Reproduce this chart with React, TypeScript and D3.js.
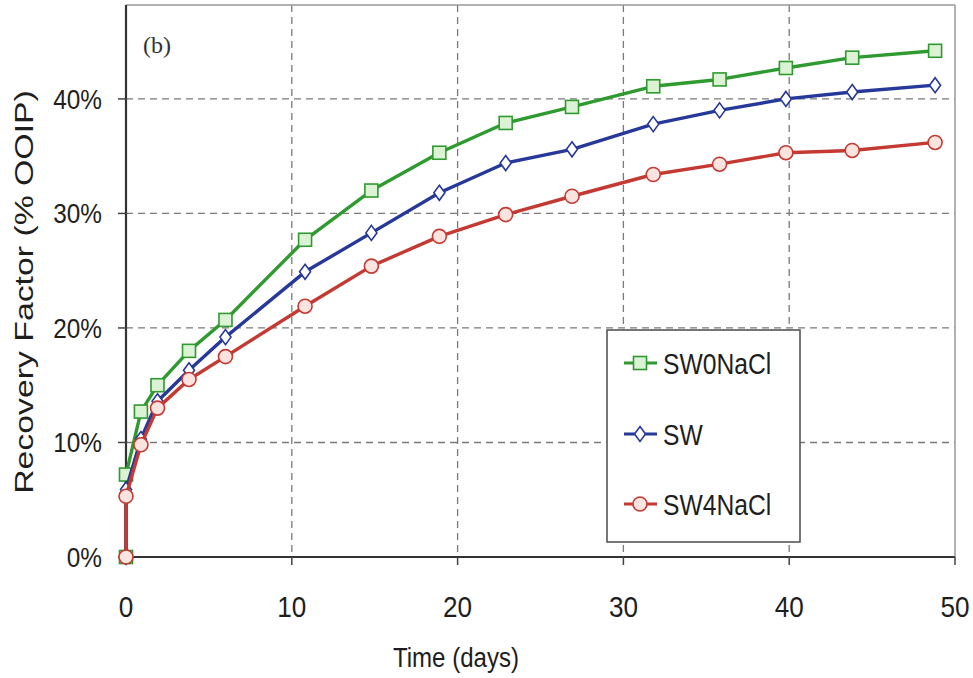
import React from "react";
import * as d3 from "d3";

const days = [0, 0, 0.9, 1.9, 3.8, 6.0, 10.8, 14.8, 18.9, 22.9, 26.9, 31.8, 35.8, 39.8, 43.8, 48.8];
const sw0NaCl = [0, 7.2, 12.7, 15.0, 18.0, 20.7, 27.7, 32.0, 35.3, 37.9, 39.3, 41.1, 41.7, 42.7, 43.6, 44.2];
const sw = [0, 5.9, 10.3, 13.6, 16.3, 19.2, 24.9, 28.3, 31.8, 34.4, 35.6, 37.8, 39.0, 40.0, 40.6, 41.2];
const sw4NaCl = [0, 5.3, 9.8, 13.0, 15.5, 17.5, 21.9, 25.4, 28.0, 29.9, 31.5, 33.4, 34.3, 35.3, 35.5, 36.2];
const xTicks = [0, 10, 20, 30, 40, 50];
const yTicks = [0, 10, 20, 30, 40];
const seriesNames = ["SW0NaCl", "SW", "SW4NaCl"];

const W = 973, H = 678;
const L = 126, R = 955, T = 5, B = 557;

const x = d3.scaleLinear().domain([0, 50]).range([L, R]);
const y = d3.scaleLinear().domain([0, 48.2]).range([B, T]);

const styles = [
  { color: "#2f9a2f", fill: "#dcf2d4", shape: "square" },
  { color: "#26389a", fill: "#ffffff", shape: "diamond" },
  { color: "#c43a33", fill: "#fbe3df", shape: "circle" },
];

function Marker({ cx, cy, shape, color, fill }: any) {
  if (shape === "square")
    return <rect x={cx - 6.5} y={cy - 6.5} width={13} height={13} fill={fill} stroke={color} strokeWidth={1.6} />;
  if (shape === "diamond")
    return <path d={`M${cx},${cy - 7.5} L${cx + 5.5},${cy} L${cx},${cy + 7.5} L${cx - 5.5},${cy} Z`} fill={fill} stroke={color} strokeWidth={1.6} />;
  return <circle cx={cx} cy={cy} r={7} fill={fill} stroke={color} strokeWidth={1.6} />;
}

const font = "'Liberation Sans', Arial, sans-serif";

function T2({ x0, y0, size, sx = 0.87, anchor = "start", children, rotate = 0 }: any) {
  const tr = rotate ? `translate(${x0},${y0}) rotate(${rotate}) scale(${sx},1)` : `translate(${x0},${y0}) scale(${sx},1)`;
  return (
    <text transform={tr} textAnchor={anchor} fontFamily={font} fontSize={size} fill="#1e1e1e">
      {children}
    </text>
  );
}

export default function App() {
  const data = [sw0NaCl, sw, sw4NaCl];
  const line = d3.line<number>().x((_, i) => x(days[i])).y((v) => y(v));
  const legendRows = [363, 434, 504];
  return (
    <svg width={W} height={H} style={{ position: "absolute", left: 0, top: 0, background: "#fff" }}>
      <rect x={0} y={0} width={W} height={H} fill="#fff" />
      {/* grid */}
      {xTicks.filter((t) => t > 0 && t < 50).map((t) => (
        <line key={"gx" + t} x1={x(t)} x2={x(t)} y1={T} y2={B} stroke="#7a7a7a" strokeWidth={1.3} strokeDasharray="7,5" />
      ))}
      {yTicks.filter((t) => t > 0).map((t) => (
        <line key={"gy" + t} x1={L} x2={R} y1={y(t)} y2={y(t)} stroke="#7a7a7a" strokeWidth={1.3} strokeDasharray="7,5" />
      ))}
      {/* frame */}
      <line x1={L} x2={R} y1={T} y2={T} stroke="#999" strokeWidth={1.5} />
      <line x1={R} x2={R} y1={T} y2={B} stroke="#999" strokeWidth={1.5} />
      <line x1={L} x2={L} y1={T} y2={B} stroke="#333" strokeWidth={2.2} />
      <line x1={L} x2={R} y1={B} y2={B} stroke="#333" strokeWidth={2.2} />
      {/* ticks */}
      {xTicks.map((t) => (
        <g key={"tx" + t}>
          <line x1={x(t)} x2={x(t)} y1={B} y2={B + 8} stroke="#444" strokeWidth={1.5} />
          <T2 x0={x(t)} y0={617} size={30} anchor="middle">{t}</T2>
        </g>
      ))}
      {yTicks.map((t) => (
        <g key={"ty" + t}>
          <line x1={L - 8} x2={L} y1={y(t)} y2={y(t)} stroke="#444" strokeWidth={1.5} />
          <T2 x0={102} y0={y(t) + 10} size={28} anchor="end">{t}%</T2>
        </g>
      ))}
      <T2 x0={456} y0={667} size={28} sx={0.86} anchor="middle">Time (days)</T2>
      <T2 x0={33} y0={292} size={26} sx={1.3} rotate={-90} anchor="middle">Recovery Factor (% OOIP)</T2>
      <text x={143} y={53} fontFamily="'Liberation Serif', 'Times New Roman', serif" fontSize={24} fill="#333">(b)</text>
      {/* series */}
      {data.map((vals, si) => (
        <g key={"s" + si}>
          <path d={line(vals) || ""} fill="none" stroke={styles[si].color} strokeWidth={3.4} strokeLinejoin="round" />
          {vals.map((v, i) => (
            <Marker key={i} cx={x(days[i])} cy={y(v)} {...styles[si]} />
          ))}
        </g>
      ))}
      {/* legend */}
      <rect x={607} y={330} width={193} height={212} fill="#fff" stroke="#555" strokeWidth={1.6} />
      {seriesNames.map((n, i) => (
        <g key={"lg" + i}>
          <line x1={624} x2={657} y1={legendRows[i]} y2={legendRows[i]} stroke={styles[i].color} strokeWidth={3} />
          <Marker cx={640} cy={legendRows[i]} {...styles[i]} />
          <T2 x0={663} y0={legendRows[i] + 11} size={29} sx={0.85}>{n}</T2>
        </g>
      ))}
    </svg>
  );
}
